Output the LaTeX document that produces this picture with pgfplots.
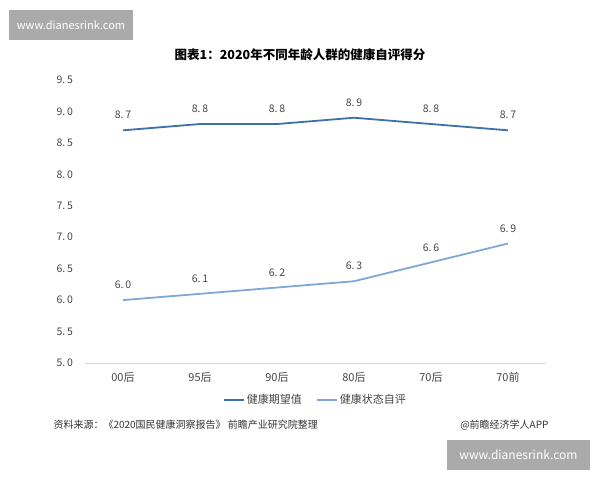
\documentclass[border=0pt]{standalone}
\usepackage{pgfplots}
\pgfplotsset{compat=1.18}
\usepackage{fontspec}
\setmainfont{Noto Sans CJK SC}
\definecolor{darkline}{RGB}{62,112,170}
\definecolor{lightline}{RGB}{128,168,214}
\definecolor{labgray}{RGB}{70,70,70}
\definecolor{wmgray}{RGB}{170,170,170}
\begin{document}
\begin{tikzpicture}[x=1pt,y=1pt]
\useasboundingbox (0,0) rectangle (600,480);
\fill[white] (0,0) rectangle (600,480);
% watermark boxes
\fill[wmgray] (9,440) rectangle (133,470);
\node[white,font=\fontsize{11}{13}\selectfont] at (71,455) {www.dianesrink.com};
\fill[wmgray] (447,10) rectangle (590,40);
\node[white,font=\fontsize{12}{14}\selectfont] at (518.5,25) {www.dianesrink.com};
% title
\node[font=\fontsize{12.5}{15}\selectfont\bfseries] at (300,425) {图表1：2020年不同年龄人群的健康自评得分};
\begin{axis}[
    at={(84.5pt,117pt)}, anchor=south west,
    scale only axis,
    width=462pt, height=283pt,
    xmin=-0.5, xmax=5.5,
    ymin=5, ymax=9.5,
    xtick={0,1,2,3,4,5},
    xticklabels={00后,95后,90后,80后,70后,70前},
    ytick={5,5.5,6,6.5,7,7.5,8,8.5,9,9.5},
    yticklabels={5.\,0,5.\,5,6.\,0,6.\,5,7.\,0,7.\,5,8.\,0,8.\,5,9.\,0,9.\,5},
    axis x line*=bottom, axis y line*=left,
    y axis line style={draw=none},
    x axis line style={draw=black!15, line width=0.8pt},
    major tick length=0pt,
    yticklabel style={font=\fontsize{10.5}{12}\selectfont, text=labgray, xshift=-8pt},
    xticklabel style={font=\fontsize{11}{12}\selectfont, text=labgray, yshift=-6pt},
    point meta=explicit symbolic,
    nodes near coords,
    every node near coord/.append style={font=\fontsize{10.5}{12}\selectfont, text=labgray, yshift=7pt},
    legend columns=2,
    legend style={at={(0.5,-0.13)}, anchor=center, draw=none, fill=none,
        font=\fontsize{11}{13}\selectfont, text=labgray,
        /tikz/every even column/.append style={column sep=12pt}},
    legend image code/.code={\draw[#1, line width=1.8pt] (0pt,0pt) -- (20pt,0pt);},
]
\addplot[darkline, line width=1.8pt, mark=none]
    coordinates {(0,8.7)[8.\,7] (1,8.8)[8.\,8] (2,8.8)[8.\,8] (3,8.9)[8.\,9] (4,8.8)[8.\,8] (5,8.7)[8.\,7]};
\addlegendentry{健康期望值}
\addplot[lightline, line width=1.8pt, mark=none]
    coordinates {(0,6.0)[6.\,0] (1,6.1)[6.\,1] (2,6.2)[6.\,2] (3,6.3)[6.\,3] (4,6.6)[6.\,6] (5,6.9)[6.\,9]};
\addlegendentry{健康状态自评}
\end{axis}
% source and credit
\node[anchor=west, font=\fontsize{10}{12}\selectfont, text=black!80] at (50,55) {资料来源：《2020国民健康洞察报告》 前瞻产业研究院整理};
\node[anchor=east, font=\fontsize{10}{12}\selectfont, text=black!80] at (552,55) {@前瞻经济学人APP};
\end{tikzpicture}
\end{document}
